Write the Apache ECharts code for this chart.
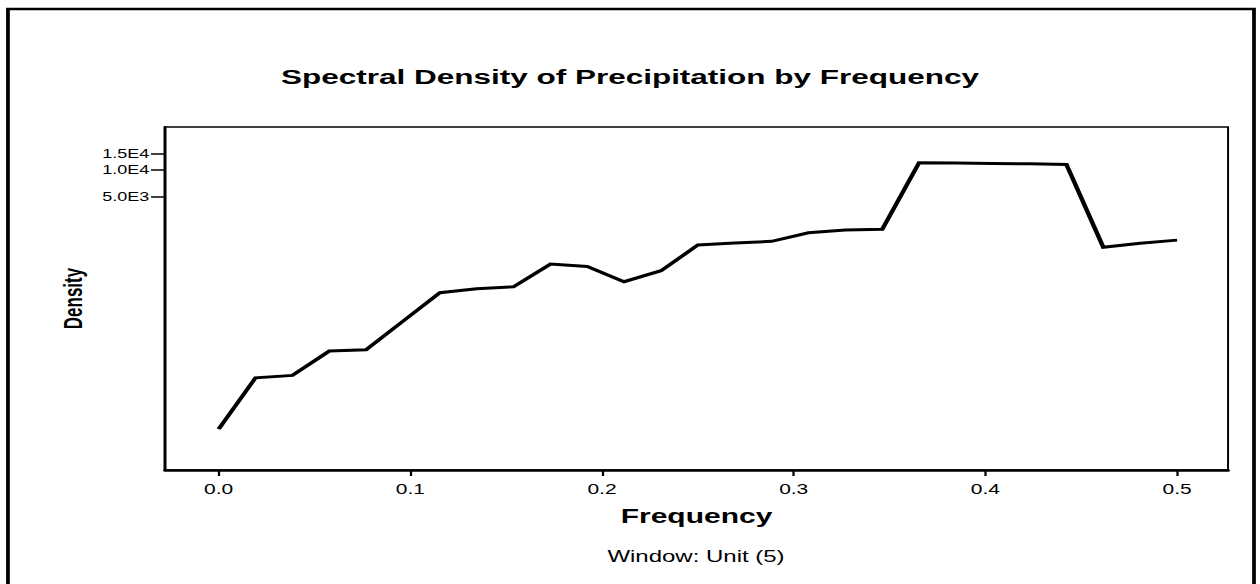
<!DOCTYPE html>
<html>
<head>
<meta charset="utf-8">
<script src="https://cdn.jsdelivr.net/npm/echarts@6/dist/echarts.min.js"></script>
<style>
  html, body { margin: 0; padding: 0; background: #fff; overflow: hidden; }
  /* The figure is laid out at 840px and stretched 1.5x sideways to fill 1260px */
  #chart { width: 840px; height: 584px; transform: scaleX(1.5); transform-origin: 0 0; }
</style>
</head>
<body>
<div id="chart"></div>
<script>
// Frequencies (cycles per observation) of the periodogram ordinates
const frequency = [0.0000, 0.0192, 0.0385, 0.0577, 0.0769, 0.0962, 0.1154, 0.1346, 0.1538,
                   0.1731, 0.1923, 0.2115, 0.2308, 0.2500, 0.2692, 0.2885, 0.3077, 0.3269,
                   0.3462, 0.3654, 0.3846, 0.4038, 0.4231, 0.4423, 0.4615, 0.4808, 0.5000];
// Spectral density estimate at each frequency
const density = [13.1, 48.6, 51.7, 96.3, 99.5, 207, 428, 474, 499,
                 891, 836, 567, 751, 1449, 1525, 1594, 1986, 2128,
                 2166, 11870, 11840, 11690, 11570, 11365, 1370, 1517, 1643];
// Axis tick labels
const xTicks = [0.0, 0.1, 0.2, 0.3, 0.4, 0.5];
const yTicks = [5000, 10000, 15000];
const yTickText = { 5000: '5.0E3', 10000: '1.0E4', 15000: '1.5E4' };

const chart = echarts.init(document.getElementById('chart'), null, { renderer: 'svg' });
const FONT = 'Liberation Sans, Arial, sans-serif';

chart.setOption({
  animation: false,
  backgroundColor: '#fff',
  title: {
    text: 'Spectral Density of Precipitation by Frequency',
    left: 'center',
    top: 61,
    textStyle: { fontFamily: FONT, fontWeight: 'bold', fontSize: 21, color: '#000' }
  },
  grid: {
    left: 110, right: 21.3, top: 127, bottom: 114,
    show: true, borderColor: '#000', borderWidth: 1.3, backgroundColor: 'transparent'
  },
  xAxis: {
    type: 'value',
    min: -0.028, max: 0.5266,
    name: 'Frequency',
    nameLocation: 'middle',
    nameGap: 36,
    nameTextStyle: { fontFamily: FONT, fontWeight: 'bold', fontSize: 20, color: '#000' },
    axisLine: { show: true, onZero: false, lineStyle: { color: '#000', width: 2.5 } },
    axisTick: { show: true, length: 6, customValues: xTicks, lineStyle: { color: '#000', width: 1.5 } },
    axisLabel: {
      customValues: xTicks, margin: 12,
      fontFamily: FONT, fontSize: 14, color: '#000',
      formatter: v => v.toFixed(1)
    },
    splitLine: { show: false }
  },
  yAxis: {
    type: 'log',
    min: 4.6, max: 29650,
    name: 'Density',
    nameLocation: 'middle',
    nameGap: 52,
    nameRotate: 90,
    nameTextStyle: { fontFamily: FONT, fontWeight: 'bold', fontSize: 17, color: '#000' },
    axisLine: { show: true, onZero: false, lineStyle: { color: '#000', width: 2 } },
    axisTick: { show: true, length: 9.3, customValues: yTicks, lineStyle: { color: '#000', width: 1.5 } },
    axisLabel: {
      customValues: yTicks, margin: 10.5,
      fontFamily: FONT, fontSize: 12, color: '#000',
      formatter: v => yTickText[Math.round(v)] || ''
    },
    minorTick: { show: false },
    splitLine: { show: false }
  },
  series: [{
    type: 'line',
    data: frequency.map((f, i) => [f, density[i]]),
    showSymbol: false,
    lineStyle: { color: '#000', width: 3, join: 'miter' },
    z: 3
  }],
  graphic: [
    {
      type: 'text', x: 464, y: 557,
      style: { text: 'Window: Unit (5)', align: 'center', verticalAlign: 'middle',
               font: '16px ' + FONT, fill: '#000' }
    },
    {
      type: 'rect',
      shape: { x: 5.3, y: 9, width: 830.7, height: 600 },
      style: { fill: 'none', stroke: '#000', lineWidth: 2.5 }
    }
  ]
});
</script>
</body>
</html>
